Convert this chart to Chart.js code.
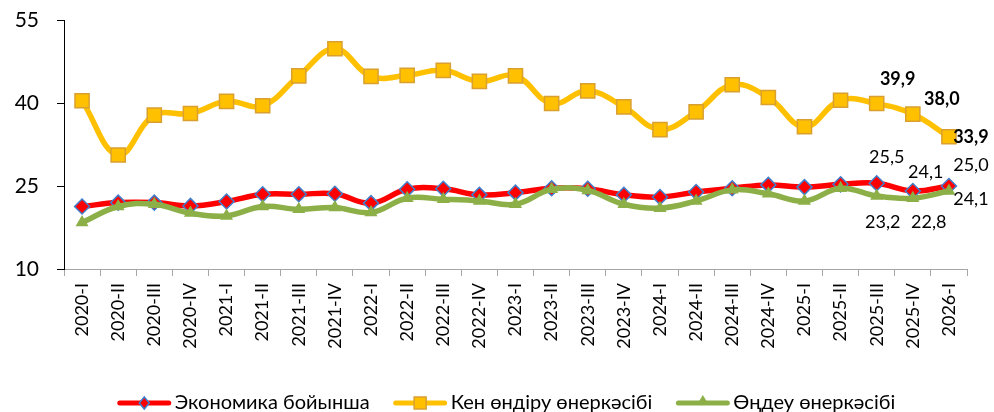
<!DOCTYPE html>
<html>
<head>
<meta charset="utf-8">
<script src="https://cdn.jsdelivr.net/npm/chart.js@4.4.1/dist/chart.umd.min.js"></script>
<style>
  html, body { margin: 0; padding: 0; background: #fff; }
  #wrap { width: 994px; height: 412px; }
</style>
</head>
<body>
<div id="wrap"><canvas id="chart"></canvas></div>
<script>
const quarters = [
  "2020-I", "2020-II", "2020-III", "2020-IV",
  "2021-I", "2021-II", "2021-III", "2021-IV",
  "2022-I", "2022-II", "2022-III", "2022-IV",
  "2023-I", "2023-II", "2023-III", "2023-IV",
  "2024-I", "2024-II", "2024-III", "2024-IV",
  "2025-I", "2025-II", "2025-III", "2025-IV",
  "2026-I"
];
const economy = [21.3, 22.0, 22.0, 21.4, 22.2, 23.5, 23.5, 23.6, 21.9, 24.4, 24.5, 23.4, 23.8, 24.6, 24.5, 23.4, 23.0, 23.9, 24.6, 25.2, 24.8, 25.3, 25.5, 24.1, 25.0];
const mining = [40.4, 30.6, 37.8, 38.1, 40.3, 39.5, 44.9, 49.8, 44.8, 45.0, 45.9, 43.9, 44.9, 39.9, 42.2, 39.3, 35.2, 38.4, 43.3, 41.0, 35.7, 40.5, 39.9, 38.0, 33.9];
const manufacturing = [18.4, 21.3, 21.7, 20.1, 19.6, 21.3, 20.8, 21.1, 20.2, 22.8, 22.6, 22.3, 21.7, 24.4, 24.2, 21.7, 21.0, 22.3, 24.3, 23.6, 22.3, 24.6, 23.2, 22.8, 24.1];
const seriesNames = ["Экономика бойынша", "Кен өндіру өнеркәсібі", "Өңдеу өнеркәсібі"];
const yMin = 10, yMax = 55, yStep = 15;

const FONT = "Lato, 'Noto Sans', sans-serif";
const RED = "#FF0000", YELLOW = "#FFC000", GREEN = "#8CAF47";
const BLUE_EDGE = "#3F7FCB", GOLD_EDGE = "#D9A030";

// which points get a value label, and where the text sits relative to the point
const labelledIdx = [22, 23, 24];
const labelOffsets = {
  economy: [[10, -26], [13, -19], [22, -21]],
  mining: [[21, -24], [29, -15], [22, 0]],
  manufacturing: [[6, 26], [16, 24], [22, 8]]
};

const fmt = (v) => v.toFixed(1).replace(".", ",");

const valueLabels = {
  id: "valueLabels",
  afterDatasetsDraw(chart) {
    const ctx = chart.ctx;
    ctx.save();
    ctx.textAlign = "center";
    ctx.textBaseline = "middle";
    ctx.fillStyle = "#000";
    chart.data.datasets.forEach((ds, di) => {
      const offs = labelOffsets[ds.key];
      const meta = chart.getDatasetMeta(di);
      ctx.font = (ds.key === "mining" ? "bold " : "") + "18px " + FONT;
      labelledIdx.forEach((idx, k) => {
        const pt = meta.data[idx];
        ctx.fillText(fmt(ds.data[idx]), pt.x + offs[k][0], pt.y + offs[k][1]);
      });
    });
    ctx.restore();
  }
};

// markers for the legend, same shapes as on the lines
const markers = {
  economy: (g, x, y) => {
    g.beginPath();
    g.moveTo(x - 5, y); g.lineTo(x, y - 6); g.lineTo(x + 5, y); g.lineTo(x, y + 6);
    g.closePath();
    g.fillStyle = RED; g.fill();
    g.strokeStyle = BLUE_EDGE; g.lineWidth = 1.5; g.stroke();
  },
  mining: (g, x, y) => {
    g.fillStyle = YELLOW;
    g.fillRect(x - 6, y - 6, 12, 12);
    g.strokeStyle = GOLD_EDGE; g.lineWidth = 1.5;
    g.strokeRect(x - 6, y - 6, 12, 12);
  },
  manufacturing: (g, x, y) => {
    g.beginPath();
    g.moveTo(x, y - 8); g.lineTo(x + 6, y + 2); g.lineTo(x - 6, y + 2);
    g.closePath();
    g.fillStyle = GREEN; g.fill();
  }
};

// legend: line + marker, text right next to it, drawn under the axis labels
const lineLegend = {
  id: "lineLegend",
  afterDraw(chart) {
    const ctx = chart.ctx;
    const symW = 55, gap = 3, itemGap = 23, cy = 403, centerX = 506;
    ctx.save();
    ctx.font = "20px " + FONT;
    ctx.textBaseline = "middle";
    const items = chart.data.datasets.map((ds) => ({ ds, w: ctx.measureText(ds.label).width }));
    const total = items.reduce((s, it) => s + symW + gap + it.w, 0) + itemGap * (items.length - 1);
    let x = centerX - total / 2;
    items.forEach(({ ds, w }) => {
      ctx.strokeStyle = ds.borderColor;
      ctx.lineWidth = 5;
      ctx.lineCap = "round";
      ctx.beginPath();
      ctx.moveTo(x + 3, cy);
      ctx.lineTo(x + symW - 3, cy);
      ctx.stroke();
      markers[ds.key](ctx, x + symW / 2, cy);
      ctx.fillStyle = "#000";
      ctx.textAlign = "left";
      ctx.fillText(ds.label, x + symW + gap, cy);
      x += symW + gap + w + itemGap;
    });
    ctx.restore();
  }
};

const common = {
  fill: false,
  borderWidth: 5.5,
  tension: 0.4,
  pointHoverRadius: 7
};

new Chart(document.getElementById("chart"), {
  type: "line",
  data: {
    labels: quarters,
    datasets: [
      {
        ...common,
        key: "economy",
        label: seriesNames[0],
        data: economy,
        borderColor: RED,
        backgroundColor: RED,
        pointStyle: "rectRot",
        pointRadius: 7.5,
        pointBackgroundColor: RED,
        pointBorderColor: BLUE_EDGE,
        pointBorderWidth: 1.5,
        order: 2
      },
      {
        ...common,
        key: "mining",
        label: seriesNames[1],
        data: mining,
        borderColor: YELLOW,
        backgroundColor: YELLOW,
        pointStyle: "rect",
        pointRadius: 10,
        pointBackgroundColor: YELLOW,
        pointBorderColor: GOLD_EDGE,
        pointBorderWidth: 1.5,
        order: 3
      },
      {
        ...common,
        key: "manufacturing",
        label: seriesNames[2],
        data: manufacturing,
        borderColor: GREEN,
        backgroundColor: GREEN,
        pointStyle: "triangle",
        pointRadius: 7.5,
        pointBackgroundColor: GREEN,
        pointBorderColor: GREEN,
        pointBorderWidth: 0,
        order: 1
      }
    ]
  },
  options: {
    responsive: true,
    maintainAspectRatio: false,
    animation: false,
    layout: { padding: { top: 20, right: 27, left: 0, bottom: 32 } },
    scales: {
      x: {
        offset: true,
        grid: { drawOnChartArea: false, offset: true, tickLength: 7, color: "#A6A6A6" },
        border: { color: "#A6A6A6", width: 1 },
        ticks: {
          minRotation: 90,
          maxRotation: 90,
          padding: 7,
          color: "#000",
          font: { family: FONT, size: 18 }
        },
        afterFit: (axis) => { axis.height = 111; }
      },
      y: {
        min: yMin,
        max: yMax,
        grid: { drawOnChartArea: false, tickLength: 7, color: "#000" },
        border: { color: "#000", width: 1 },
        ticks: {
          stepSize: yStep,
          padding: 18,
          color: "#000",
          font: { family: FONT, size: 21 }
        },
        afterFit: (axis) => {
          axis.width = 64;
          // tick padding would otherwise push the plot top down
          axis.paddingTop = 0;
          axis.paddingBottom = 0;
        }
      }
    },
    plugins: {
      tooltip: { enabled: false },
      legend: { display: false }
    }
  },
  plugins: [valueLabels, lineLegend]
});
</script>
</body>
</html>
